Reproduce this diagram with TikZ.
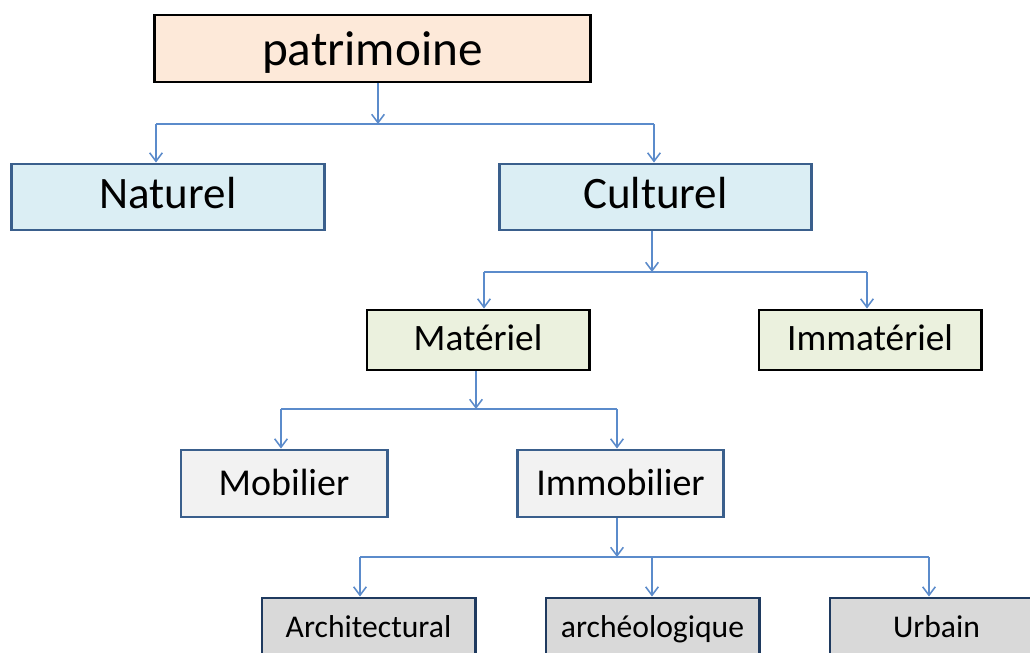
\documentclass[tikz,border=0pt]{standalone}
\usepackage{fontspec}
\setmainfont{Carlito}
\usepackage{tikz}
\usetikzlibrary{calc,positioning,arrows.meta}

\definecolor{peach}{HTML}{FDE9D9}
\definecolor{skyfill}{HTML}{DBEEF4}
\definecolor{leaf}{HTML}{EBF1DE}
\definecolor{pale}{HTML}{F2F2F2}
\definecolor{greyfill}{HTML}{D9D9D9}
\definecolor{boxblue}{HTML}{3A5F8C}
\definecolor{navy}{HTML}{1F3A5F}
\definecolor{linkblue}{HTML}{5B8BCB}

\begin{document}
\begin{tikzpicture}[x=0.025cm, y=-0.025cm,
	box/.style={draw, line width=2.1pt, inner sep=0pt, align=center},
	link/.style={draw=linkblue, line width=1.1pt},
	arr/.style={link, -{Straight Barb[length=6pt,width=9pt]}}]
	\clip (0,0) rectangle (1030,652);
	\fill[white] (0,0) rectangle (1030,652);

	% Boxes, from top to bottom
	\node[box, fill=peach, minimum width=10.875cm, minimum height=1.675cm, text height=32pt, text depth=8pt, font=\fontsize{35}{40}\selectfont] (patrimoine) at (372.5,48.5) {patrimoine};

	\node[box, draw=boxblue, fill=skyfill, minimum width=7.8cm, minimum height=1.65cm, text height=24pt, text depth=7pt, font=\fontsize{32}{38}\selectfont] (naturel) at (168,197) {Naturel};
	\node[box, draw=boxblue, fill=skyfill, minimum width=7.8cm, minimum height=1.65cm, text height=24pt, text depth=7pt, font=\fontsize{32}{38}\selectfont] (culturel) at (655.5,197) {Culturel};

	\node[box, fill=leaf, minimum width=5.55cm, minimum height=1.5cm, text height=20pt, text depth=4.8pt, font=\fontsize{26.5}{32}\selectfont] (materiel) at (478,340) {Matériel};
	\node[box, fill=leaf, minimum width=5.55cm, minimum height=1.5cm, text height=20pt, text depth=4.8pt, font=\fontsize{26.5}{32}\selectfont] (immateriel) at (870,340) {Immatériel};

	\node[box, draw=boxblue, fill=pale, minimum width=5.15cm, minimum height=1.675cm, text height=21pt, text depth=4.6pt, font=\fontsize{27}{32}\selectfont] (mobilier) at (284,483.5) {Mobilier};
	\node[box, draw=boxblue, fill=pale, minimum width=5.15cm, minimum height=1.675cm, text height=21pt, text depth=4.6pt, font=\fontsize{27}{32}\selectfont] (immobilier) at (620.5,483.5) {Immobilier};

	\node[box, draw=navy, fill=greyfill, minimum width=5.325cm, minimum height=1.5cm, text height=17pt, text depth=4.2pt, font=\fontsize{22.5}{27}\selectfont] (archi) at (368.5,628) {Architectural};
	\node[box, draw=navy, fill=greyfill, minimum width=5.325cm, minimum height=1.5cm, text height=17pt, text depth=4.2pt, font=\fontsize{22.5}{27}\selectfont] (archeo) at (652.5,628) {archéologique};
	\node[box, draw=navy, fill=greyfill, minimum width=5.325cm, minimum height=1.5cm, text height=17pt, text depth=4.2pt, font=\fontsize{22.5}{27}\selectfont] (urbain) at (936.5,628) {Urbain};

	% Branching bars
	\coordinate (b1l) at (156,124);
	\coordinate (b1m) at (378,124);
	\coordinate (b1r) at (654,124);
	\coordinate (b2l) at (484,272);
	\coordinate (b2m) at (652,272);
	\coordinate (b2r) at (867,272);
	\coordinate (b3l) at (281,409);
	\coordinate (b3m) at (476,409);
	\coordinate (b3r) at (617,409);
	\coordinate (b4l) at (360,557);
	\coordinate (b4m) at (652,557);
	\coordinate (b4r) at (929,557);
	\coordinate (b4t) at (617,557);

	% patrimoine
	\draw[arr] (b1m |- patrimoine.south) -- (b1m);
	\draw[link] (b1l) -- (b1r);
	\draw[arr] (b1l) -- (b1l |- naturel.north);
	\draw[arr] (b1r) -- (b1r |- culturel.north);

	% Culturel
	\draw[arr] (b2m |- culturel.south) -- (b2m);
	\draw[link] (b2l) -- (b2r);
	\draw[arr] (b2l) -- (b2l |- materiel.north);
	\draw[arr] (b2r) -- (b2r |- immateriel.north);

	% Materiel
	\draw[arr] (b3m |- materiel.south) -- (b3m);
	\draw[link] (b3l) -- (b3r);
	\draw[arr] (b3l) -- (b3l |- mobilier.north);
	\draw[arr] (b3r) -- (b3r |- immobilier.north);

	% Immobilier
	\draw[arr] (b4t |- immobilier.south) -- (b4t);
	\draw[link] (b4l) -- (b4r);
	\draw[arr] (b4l) -- (b4l |- archi.north);
	\draw[arr] (b4m) -- (b4m |- archeo.north);
	\draw[arr] (b4r) -- (b4r |- urbain.north);
\end{tikzpicture}
\end{document}
